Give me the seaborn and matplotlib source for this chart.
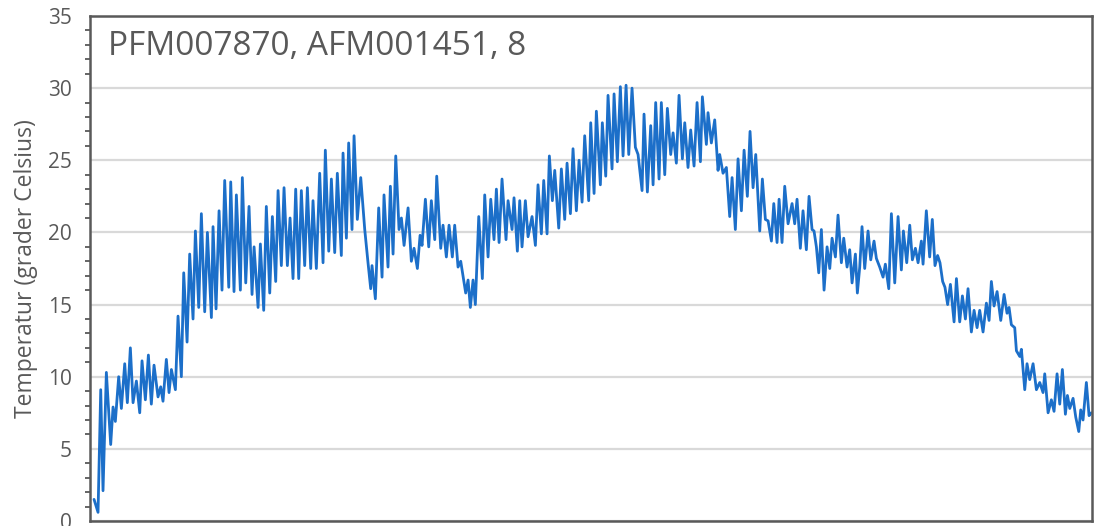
import matplotlib
matplotlib.use("Agg")
import matplotlib.pyplot as plt
from matplotlib.ticker import MultipleLocator
import seaborn as sns
import pandas as pd

# day number and temperature (daily highs / lows)
days = [
    0.61, 1.22, 1.63, 1.98, 2.49, 3.15, 3.51, 3.86, 4.37, 4.78, 5.29, 5.69, 6.15, 6.56,
    7.07, 7.58, 7.93, 8.44, 8.90, 9.35, 9.76, 10.37, 10.78, 11.13, 11.64, 12.05, 12.41,
    13.02, 13.42, 13.93, 14.29, 14.80, 15.20, 15.71, 16.07, 16.58, 16.98, 17.49, 17.90,
    18.51, 18.76, 19.22, 19.68, 20.13, 20.54, 21.16,
    21.46, 21.96, 22.32, 22.93, 23.23, 23.75, 24.25, 24.71, 25.02, 25.63, 25.98, 26.49,
    26.89, 27.41, 27.81, 28.32, 28.68, 29.18, 29.59, 30.10, 30.51, 30.96, 31.37, 31.83,
    32.23, 32.74, 33.15, 33.66, 34.01, 34.52, 35.03, 35.54, 35.89, 36.41, 36.81, 37.32,
    37.72, 38.33, 38.59, 39.10, 39.45, 39.96, 40.27, 40.77, 41.29, 41.90, 42.40,
    42.81, 43.01, 43.52, 44.03, 44.54, 44.84, 45.45, 45.81, 46.22, 46.63, 47.13, 47.49,
    47.90, 48.51, 49.01, 49.42, 49.93, 50.34, 50.64, 51.15, 51.66, 52.06, 52.58, 52.88,
    53.49, 53.84, 54.35, 54.76, 55.26, 55.62, 56.13, 56.54, 57.05, 57.30, 57.66, 58.01,
    58.42, 58.77, 59.29, 59.84, 60.20, 60.71, 61.12, 61.62, 61.98, 62.39, 62.84, 63.45,
    63.76, 64.37,
    64.67, 65.18, 65.54, 65.89, 66.40, 66.81, 67.42, 67.93, 68.33, 68.84, 69.20, 69.71,
    70.06, 70.52, 70.88, 71.49, 71.89, 72.40, 72.76, 73.27, 73.67, 74.18, 74.59, 75.05,
    75.45, 76.06, 76.37, 76.88, 77.23, 77.84, 78.14, 78.66, 79.01, 79.62, 79.93, 80.43,
    80.89, 81.30, 81.76, 82.17, 82.67, 83.18, 83.59, 84.20, 84.50, 85.01,
    85.52, 85.88, 86.28, 86.79, 87.14, 87.66, 88.06, 88.57, 88.93, 89.43, 89.84, 90.35,
    90.71, 91.21, 91.62, 92.13, 92.59, 93.10, 93.40, 94.01, 94.26, 94.77, 95.28, 95.79,
    96.04, 96.55, 97.06, 97.57, 97.93, 98.43, 98.84, 99.35, 99.76, 100.26, 100.67,
    101.13, 101.54, 102.15, 102.55, 103.01, 103.42, 103.93, 104.29, 104.79, 105.10,
    105.55, 105.96, 106.47,
    107.08, 107.48, 107.84, 108.34, 108.75, 109.26, 109.67, 110.13, 110.43, 110.79,
    111.15, 111.55, 111.96, 112.42, 112.83, 113.18, 113.69, 114.09, 114.60, 114.96,
    115.47, 115.87, 116.23, 116.74, 117.04, 117.40, 117.75, 118.16, 118.67, 119.08,
    119.58, 119.94, 120.45, 120.96, 121.31, 121.83, 122.23, 122.74, 123.25, 123.75,
    124.06, 124.57, 125.03, 125.43, 125.89, 126.30, 126.80, 127.06, 127.56, 128.07,
    128.47,
    128.88, 129.28, 129.64, 130.05, 130.40, 130.81, 131.23, 131.79, 132.15, 132.65,
    133.06, 133.52, 133.92, 134.43, 134.84, 135.30, 135.70, 136.21, 136.72, 137.13,
    137.48, 137.89, 138.35, 138.91, 139.42, 139.87, 140.18, 140.53, 141.04, 141.30,
    141.81, 142.06, 142.57, 142.92, 143.33, 143.84, 144.35, 144.86, 145.36, 145.62,
    146.13, 146.63, 147.04, 147.50, 147.91, 148.31, 148.77, 149.08, 149.44, 149.94,
    150.35, 150.81, 151.11, 151.46, 151.97, 152.38, 152.73,
]
temps = [
    1.5, 0.6, 9.1, 2.1, 10.3, 5.3, 7.9, 6.9, 10.0, 7.8, 10.9, 8.2, 12.0, 8.2,
    9.7, 7.5, 11.1, 8.4, 11.5, 8.1, 10.8, 8.6, 9.3, 8.3, 11.2, 8.9, 10.5,
    9.1, 14.2, 10.0, 17.2, 12.4, 18.5, 14.0, 20.1, 14.8, 21.3, 14.5, 20.0,
    14.1, 20.4, 14.7, 21.5, 16.0, 23.6, 16.2,
    23.5, 15.9, 22.6, 16.0, 23.8, 16.5, 21.8, 15.7, 19.0, 14.8, 19.2, 14.6,
    21.8, 15.8, 21.1, 16.6, 22.9, 17.7, 23.1, 17.7, 21.0, 16.8, 23.0, 16.8,
    22.9, 17.7, 23.1, 17.5, 22.2, 17.5, 24.1, 17.9, 25.7, 18.7, 23.7, 18.6,
    24.1, 18.4, 25.5, 19.6, 26.2, 20.2, 26.7, 20.9, 23.8, 20.2, 17.9,
    16.1, 17.7, 15.4, 21.7, 16.9, 22.6, 17.6, 23.2, 18.5, 25.3, 20.2, 21.0,
    19.1, 21.7, 18.0, 18.9, 17.5, 19.8, 19.1, 22.3, 19.0, 22.2, 19.5, 23.9,
    18.9, 20.5, 18.3, 20.5, 18.3, 20.5, 17.6, 18.0, 16.5, 15.8, 16.7, 14.8,
    16.7, 15.0, 21.1, 16.8, 22.6, 18.3, 22.3, 19.5, 23.0, 19.3, 23.7, 19.5,
    22.2, 20.2,
    22.4, 18.7, 22.2, 19.0, 22.2, 19.7, 21.1, 19.1, 23.3, 19.9, 23.6, 19.9,
    25.3, 22.2, 24.3, 20.3, 24.4, 20.9, 24.8, 21.3, 25.8, 21.5, 25.0, 22.1,
    26.7, 22.2, 27.6, 22.7, 28.4, 23.3, 27.6, 23.9, 29.5, 24.4, 29.6, 24.9,
    30.1, 25.3, 30.2, 25.4, 30.0, 25.9, 25.4, 22.9, 28.2, 22.8,
    27.4, 23.3, 29.0, 23.7, 29.0, 24.0, 28.6, 25.4, 26.9, 24.8, 29.5, 25.1,
    27.6, 24.5, 27.1, 24.6, 29.0, 24.9, 29.4, 26.1, 28.3, 26.2, 27.8, 24.3,
    25.4, 24.1, 24.5, 21.1, 23.8, 20.2, 25.1, 21.5, 25.7, 22.5, 27.0,
    23.1, 25.4, 20.1, 23.7, 20.9, 20.8, 19.4, 22.0, 19.3, 22.3,
    19.3, 23.2, 20.6,
    22.0, 20.6, 22.3, 18.9, 21.5, 18.8, 22.5, 20.2, 20.1, 19.0,
    17.2, 20.2, 16.0, 19.0, 17.5, 19.6, 18.3, 21.2, 17.9, 19.6,
    17.6, 18.8, 16.5, 18.5, 15.8, 17.6, 20.4, 17.5, 20.1, 18.1,
    19.4, 18.2, 17.6, 16.9, 17.8, 16.1, 21.3, 16.5, 21.1, 17.4,
    20.1, 17.9, 20.5, 18.1, 18.9, 17.9, 19.4, 17.8, 21.5, 18.3,
    20.9,
    17.7, 18.4, 17.9, 16.6, 16.2, 15.0, 16.4, 13.8, 16.8, 13.8,
    15.6, 14.0, 16.1, 13.1, 14.6, 13.4, 14.6, 13.1, 15.1, 13.9,
    16.6, 14.9, 15.9, 13.9, 15.7, 14.4, 14.8, 13.6, 13.4, 11.8,
    11.4, 11.9, 9.1, 10.9, 9.8, 10.9, 9.1, 9.6, 8.9, 10.2,
    7.5, 8.4, 7.6, 10.2, 8.1, 10.5, 7.4, 8.7, 7.8, 8.5,
    7.2, 6.2, 7.7, 7.0, 9.6, 7.3, 7.5,
]
title_text = "PFM007870, AFM001451, 8"
y_label = "Temperatur (grader Celsius)"

df = pd.DataFrame({"dag": days, "temp": temps})

sns.set_style("white")
plt.rcParams["font.family"] = ["Open Sans", "DejaVu Sans"]

grey = "#595959"
fig = plt.figure(figsize=(10.94, 5.26), dpi=100)
ax = fig.add_axes([0.0823, 0.0095, 0.9157, 0.9601])

sns.lineplot(data=df, x="dag", y="temp", ax=ax, color="#1c6fc9", linewidth=2.0,
             sort=False, estimator=None)

ax.set_xlim(0, 152.8)
ax.set_ylim(0, 35)
ax.yaxis.set_major_locator(MultipleLocator(5))
ax.yaxis.set_minor_locator(MultipleLocator(1))
ax.xaxis.set_major_locator(MultipleLocator(18))
ax.set_xticklabels([])
ax.grid(axis="y", which="major", color="#d9d9d9", linewidth=1.6)
ax.set_axisbelow(True)

for s in ax.spines.values():
    s.set_color(grey)
    s.set_linewidth(1.8)

ax.tick_params(axis="y", which="major", direction="out", length=6, width=1.5,
               color=grey, labelcolor=grey, labelsize=15, pad=7)
ax.tick_params(axis="y", which="minor", direction="out", length=3.6, width=1.3,
               color=grey, left=True)
ax.tick_params(axis="x", which="major", direction="out", length=4, width=1.5,
               color=grey)

ax.set_xlabel("")
ax.set_ylabel(y_label, fontsize=16.5, color=grey, labelpad=7)
ax.text(0.018, 0.939, title_text, transform=ax.transAxes, fontsize=24,
        color=grey, ha="left", va="center")

fig.savefig("out.png", dpi=100)
